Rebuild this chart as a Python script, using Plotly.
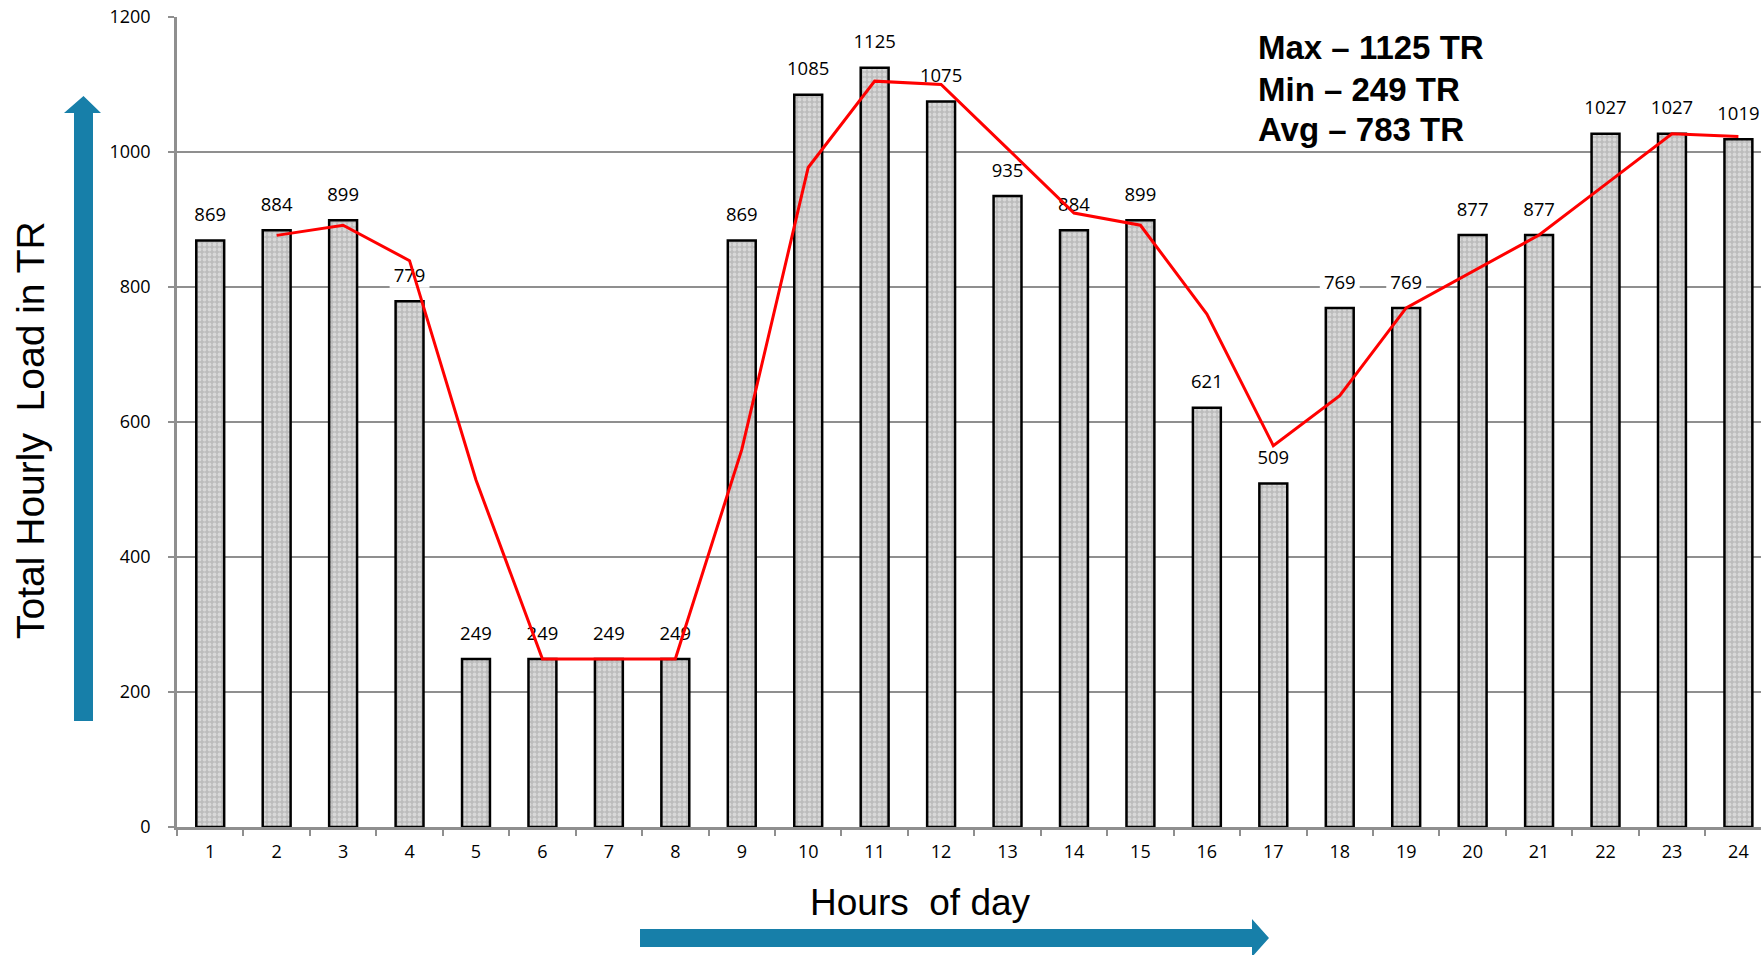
import plotly.graph_objects as go

# ---------------- data ----------------
hours = list(range(1, 25))
load_tr = [869, 884, 899, 779, 249, 249, 249, 249, 869, 1085, 1125, 1075,
           935, 884, 899, 621, 509, 769, 769, 877, 877, 1027, 1027, 1019]
# red trend line (2-period moving average), hours 2..24
trend_hours = list(range(2, 25))
trend_tr = [876.5, 891.5, 839, 514, 249, 249, 249, 559, 977, 1105, 1100,
            1005, 909.5, 891.5, 760, 565, 639, 769, 823, 877, 952, 1027, 1023]
y_ticks = [0, 200, 400, 600, 800, 1000, 1200]
stats_lines = ["Max \u2013 1125 TR", "Min \u2013 249 TR", "Avg \u2013 783 TR"]
x_title = "Hours\u00a0 of day"
y_title = "Total Hourly\u00a0 Load in TR"

# ---------------- layout geometry (pixels) ----------------
W, H = 1761, 955
L, R_EDGE = 177, 1761
TOP, BOT = 17, 827
PW, PH = R_EDGE - L, BOT - TOP


def px(x):
    return (x - L) / PW


def py(y):
    return (BOT - y) / PH


LABEL_FONT = "Open Sans"
BLUE = "#177fa9"
GRID = "#8f8f8f"

fig = go.Figure()

fig.add_trace(go.Bar(
    x=hours, y=load_tr, width=0.42,
    marker=dict(
        color="#c4c4c4",
        line=dict(color="black", width=2.5),
        pattern=dict(shape=".", bgcolor="#bcbcbc", fgcolor="#f4f4f4",
                     size=5, solidity=0.45),
    ),
    hoverinfo="skip", showlegend=False,
))

# data labels
fig.add_trace(go.Scatter(
    x=hours, y=load_tr, mode="markers+text",
    text=[str(v) for v in load_tr], textposition="top center",
    textfont=dict(family=LABEL_FONT, size=18.5, color="black"),
    marker=dict(size=22, color="rgba(0,0,0,0)"),
    hoverinfo="skip", showlegend=False,
))

# red trend line
fig.add_trace(go.Scatter(
    x=trend_hours, y=trend_tr, mode="lines",
    line=dict(color="#ff0000", width=3),
    hoverinfo="skip", showlegend=False,
))

shapes = []
# white backgrounds behind data labels (between gridlines and traces)
for i, v in enumerate(load_tr):
    shapes.append(dict(type="rect", xref="x", yref="y", layer="between",
                       x0=i - 0.3, x1=i + 0.3, y0=v + 20, y1=v + 50,
                       fillcolor="white", line=dict(width=0)))


def path(points):
    return "M " + " L ".join(f"{px(a):.5f},{py(b):.5f}" for a, b in points) + " Z"


# vertical arrow
shapes.append(dict(type="path", xref="paper", yref="paper", layer="above",
                   path=path([(74, 721), (74, 113), (64, 113), (83.5, 96),
                              (101, 113), (93, 113), (93, 721)]),
                   fillcolor=BLUE, line=dict(width=0)))
# horizontal arrow
shapes.append(dict(type="path", xref="paper", yref="paper", layer="above",
                   path=path([(640, 929), (1252, 929), (1252, 919), (1269, 938),
                              (1252, 957), (1252, 947), (640, 947)]),
                   fillcolor=BLUE, line=dict(width=0)))

annotations = []
for line_txt, yy in zip(stats_lines, [47, 89, 129]):
    annotations.append(dict(xref="paper", yref="paper", x=px(1256), y=py(yy),
                            xanchor="left", yanchor="middle", showarrow=False,
                            text=f"<b>{line_txt}</b>",
                            font=dict(family="Liberation Sans", size=33, color="black")))
annotations.append(dict(xref="paper", yref="paper", x=px(30), y=py(430),
                        xanchor="center", yanchor="middle", showarrow=False,
                        textangle=-90, text=y_title,
                        font=dict(family="Liberation Sans", size=39, color="black")))
annotations.append(dict(xref="paper", yref="paper", x=px(920), y=py(902),
                        xanchor="center", yanchor="middle", showarrow=False,
                        text=x_title,
                        font=dict(family="Liberation Sans", size=37, color="black")))

fig.update_layout(
    width=W, height=H,
    margin=dict(l=L, r=W - R_EDGE, t=TOP, b=H - BOT, autoexpand=False),
    plot_bgcolor="white", paper_bgcolor="white",
    bargap=0.58,
    shapes=shapes, annotations=annotations,
    xaxis=dict(type="category", range=[-0.5, 23.34], tickson="boundaries",
               ticks="outside", ticklen=6, tickwidth=2, tickcolor=GRID,
               showline=True, linecolor=GRID, linewidth=2.5,
               showgrid=False, zeroline=False,
               tickfont=dict(family=LABEL_FONT, size=18, color="black"),
               ticklabelstandoff=7),
    yaxis=dict(range=[0, 1200], tickvals=y_ticks,
               ticks="outside", ticklen=6, tickwidth=2, tickcolor=GRID,
               showline=True, linecolor=GRID, linewidth=2.5,
               showgrid=True, gridcolor=GRID, gridwidth=2,
               zeroline=False,
               tickfont=dict(family=LABEL_FONT, size=18, color="black"),
               ticklabelstandoff=14),
)

fig.write_html("out.html")
